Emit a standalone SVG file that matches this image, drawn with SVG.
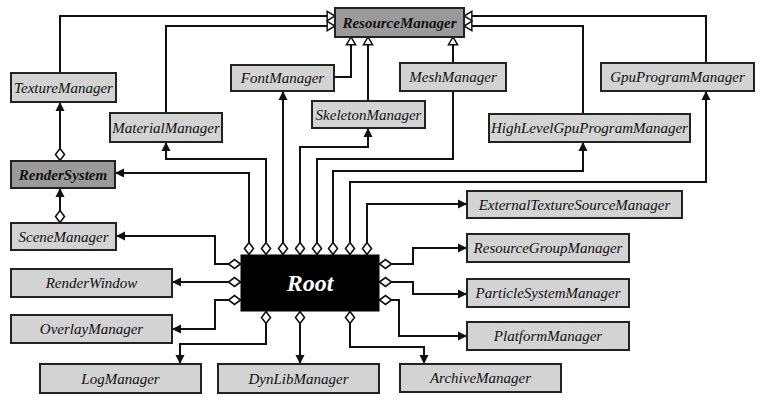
<svg xmlns="http://www.w3.org/2000/svg" width="768" height="412" viewBox="0 0 768 412">
<style>
.box{fill:#d3d3d3;stroke:#222;stroke-width:2}
.dark{fill:#9a9a9a;stroke:#222;stroke-width:2}
.root{fill:#000;stroke:#000;stroke-width:1}
.t{font-family:"Liberation Serif","Times New Roman",serif;font-style:italic;font-size:15px;fill:#111;text-anchor:middle;dominant-baseline:central}
.tb{font-weight:bold}
.rt{font-family:"Liberation Serif","Times New Roman",serif;font-style:italic;font-weight:bold;font-size:24px;fill:#fff;text-anchor:middle;dominant-baseline:central}
.c{fill:none;stroke:#111;stroke-width:2}
.inh{marker-end:url(#tri)}
.as{marker-start:url(#dia);marker-end:url(#arr)}
.ag{marker-start:url(#dia)}
</style>
<defs>
<marker id="arr" markerUnits="userSpaceOnUse" markerWidth="10" markerHeight="10" refX="9" refY="4.5" orient="auto" viewBox="0 0 10 9">
<path d="M0,0 L9,4.5 L0,9 z" fill="#111"/>
</marker>
<marker id="tri" markerUnits="userSpaceOnUse" markerWidth="12" markerHeight="12" refX="9" refY="5.5" orient="auto" viewBox="-1 -1 12 13">
<path d="M0.5,0.5 L9,5.5 L0.5,10.5 z" fill="#fff" stroke="#111" stroke-width="1.6"/>
</marker>
<marker id="dia" markerUnits="userSpaceOnUse" markerWidth="15" markerHeight="12" refX="0" refY="5" orient="auto" viewBox="-1 -1 15 12">
<path d="M0.5,5 L6.5,0.5 L12.5,5 L6.5,9.5 z" fill="#fff" stroke="#111" stroke-width="1.6"/>
</marker>
</defs>
<g id="connectors">
<path class="c inh" d="M60,73 V16 H335"/>
<path class="c inh" d="M166,113 V26 H335"/>
<path class="c inh" d="M334,77 H351 V37"/>
<path class="c inh" d="M368,101 V37"/>
<path class="c inh" d="M453,63 V37"/>
<path class="c inh" d="M583,114 V26 H464"/>
<path class="c inh" d="M706,63 V16 H464"/>
<path class="c as" d="M60,161 V102"/>
<path class="c as" d="M60,223 V188"/>
<path class="c as" d="M249,255 V173 H115"/>
<path class="c as" d="M266,255 V159 H166 V142"/>
<path class="c as" d="M283,255 V91"/>
<path class="c as" d="M300,255 V147 H368 V128"/>
<path class="c ag" d="M317,255 V159 H453 V91"/>
<path class="c as" d="M333,255 V171 H583 V142"/>
<path class="c as" d="M350,255 V182 H706 V91"/>
<path class="c as" d="M367,255 V204 H467"/>
<path class="c as" d="M241,264 H215 V236 H116"/>
<path class="c as" d="M241,282 H172"/>
<path class="c as" d="M241,300 H215 V329 H172"/>
<path class="c as" d="M379,264 H413 V248 H467"/>
<path class="c as" d="M379,282 H413 V294 H467"/>
<path class="c as" d="M379,300 H399 V336 H467"/>
<path class="c as" d="M266,311 V344 H180 V364"/>
<path class="c as" d="M300,311 V364"/>
<path class="c as" d="M350,311 V347 H424 V364"/>
</g>
<g id="ResourceManager"><rect class="dark" x="335" y="8" width="129" height="29"/><text class="t tb" x="399.5" y="22.5">ResourceManager</text></g>
<g id="TextureManager"><rect class="box" x="11" y="73" width="105" height="29"/><text class="t" x="63.5" y="87.5">TextureManager</text></g>
<g id="MaterialManager"><rect class="box" x="110" y="113" width="112" height="29"/><text class="t" x="166" y="127.5">MaterialManager</text></g>
<g id="FontManager"><rect class="box" x="231" y="65" width="103" height="26"/><text class="t" x="282.5" y="78">FontManager</text></g>
<g id="SkeletonManager"><rect class="box" x="312" y="101" width="113" height="27"/><text class="t" x="368.5" y="114.5">SkeletonManager</text></g>
<g id="MeshManager"><rect class="box" x="400" y="63" width="106" height="28"/><text class="t" x="453" y="77">MeshManager</text></g>
<g id="GpuProgramManager"><rect class="box" x="601" y="63" width="153" height="28"/><text class="t" x="677.5" y="77">GpuProgramManager</text></g>
<g id="HighLevelGpuProgramManager"><rect class="box" x="489" y="114" width="201" height="28"/><text class="t" x="589.5" y="128">HighLevelGpuProgramManager</text></g>
<g id="RenderSystem"><rect class="dark" x="11" y="161" width="104" height="27"/><text class="t tb" x="63" y="174.5">RenderSystem</text></g>
<g id="SceneManager"><rect class="box" x="11" y="223" width="105" height="27"/><text class="t" x="63.5" y="236.5">SceneManager</text></g>
<g id="RenderWindow"><rect class="box" x="11" y="269" width="161" height="28"/><text class="t" x="91.5" y="283">RenderWindow</text></g>
<g id="OverlayManager"><rect class="box" x="11" y="315" width="161" height="28"/><text class="t" x="91.5" y="329">OverlayManager</text></g>
<g id="LogManager"><rect class="box" x="40" y="364" width="161" height="29"/><text class="t" x="120.5" y="378.5">LogManager</text></g>
<g id="DynLibManager"><rect class="box" x="218" y="364" width="161" height="29"/><text class="t" x="298.5" y="378.5">DynLibManager</text></g>
<g id="ArchiveManager"><rect class="box" x="400" y="364" width="161" height="28"/><text class="t" x="480.5" y="378">ArchiveManager</text></g>
<g id="PlatformManager"><rect class="box" x="467" y="322" width="162" height="28"/><text class="t" x="548" y="336">PlatformManager</text></g>
<g id="ParticleSystemManager"><rect class="box" x="467" y="279" width="162" height="28"/><text class="t" x="548" y="293">ParticleSystemManager</text></g>
<g id="ResourceGroupManager"><rect class="box" x="467" y="234" width="162" height="28"/><text class="t" x="548" y="248">ResourceGroupManager</text></g>
<g id="ExternalTextureSourceManager"><rect class="box" x="467" y="191" width="215" height="27"/><text class="t" x="574.5" y="204.5">ExternalTextureSourceManager</text></g>
<g id="Root"><rect class="root" x="241" y="255" width="138" height="56"/><text class="rt" x="310" y="283">Root</text></g>
</svg>
